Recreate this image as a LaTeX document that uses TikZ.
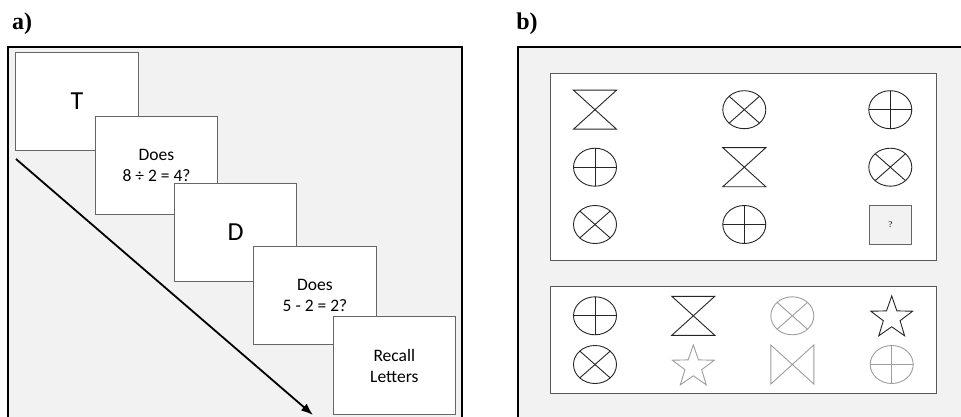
\documentclass[tikz,border=0pt]{standalone}
\usepackage{fontspec}
\setmainfont{Liberation Serif}
\newfontfamily\cardfont{Carlito}
\usepackage{tikz}
\usetikzlibrary{arrows.meta, shapes.geometric}

\begin{document}
\begin{tikzpicture}[x=1pt, y=-1pt]
        \tikzset{panel/.style = {draw, line width=2pt, fill=black!5}}
        \tikzset{card/.style = {draw=black!60, line width=0.8pt, fill=white, minimum width=122.5pt, minimum height=98pt, inner sep=0pt, align=center, font=\cardfont\fontsize{17.5}{21}\selectfont}}
        \tikzset{bigletter/.style = {font=\cardfont\fontsize{26}{30}\selectfont}}
        \tikzset{holder/.style = {draw=black!65, line width=1pt, fill=white, inner sep=0pt}}
        \tikzset{fig/.style = {line width=0.9pt, draw=black!85}}
        \tikzset{faint/.style = {line width=0.9pt, draw=black!38}}
        \tikzset{starfig/.style = {star, star points=5, star point ratio=2.5, minimum size=44pt, inner sep=0pt}}
        \tikzset{
            hourglass/.pic = {\draw[pic actions] (-21.5,-19.5) -- (21.5,-19.5) -- (-21.5,19.5) -- (21.5,19.5) -- cycle;},
            bowtie/.pic = {\draw[pic actions] (-21.5,-19.5) -- (-21.5,19.5) -- (21.5,-19.5) -- (21.5,19.5) -- cycle;},
            crossoval/.pic = {\draw[pic actions] (0,0) ellipse [x radius=21.5pt, y radius=19pt];
                \draw[pic actions] (135:21.5pt and 19pt) -- (-45:21.5pt and 19pt);
                \draw[pic actions] (45:21.5pt and 19pt) -- (225:21.5pt and 19pt);},
            plusoval/.pic = {\draw[pic actions] (0,0) ellipse [x radius=21.5pt, y radius=19pt];
                \draw[pic actions] (0,-19) -- (0,19);
                \draw[pic actions] (-21.5,0) -- (21.5,0);}
        }

        \useasboundingbox (0,0) rectangle (961,417);
        \clip (0,0) rectangle (961,417);

        % panel a
        \node[font=\bfseries\fontsize{24}{28}\selectfont] (labela) at (22,24) {a)};
        \draw[panel] (8,47) rectangle (462,440);

        \node[card, bigletter] (cardT) at (77,101.5) {T};
        \node[card] (cardQa) at (156.5,165) {Does\\8 ÷ 2 = 4?};
        \node[card, bigletter] (cardD) at (235.5,232.5) {D};
        \node[card] (cardQb) at (315,295.7) {Does\\5 - 2 = 2?};
        \node[card] (cardR) at (394.3,365.7) {Recall\\Letters};

        % arrows
        \coordinate (arrstart) at (16,159);
        \coordinate (arrend) at (313,415);
        \draw[line width=1.8pt, -{Latex[length=12pt, width=9pt]}] (arrstart) -- (arrend);

        % panel b
        \node[font=\bfseries\fontsize{24}{28}\selectfont] (labelb) at (527,24) {b)};
        \draw[panel] (518,47) rectangle (975,440);

        \node[holder, minimum width=386pt, minimum height=187.4pt] (matbox) at (743,167) {};
        \node[holder, minimum width=386pt, minimum height=106.6pt] (choicebox) at (743,340) {};

        % matrix
        \pic[fig] (m11) at (595,109.7) {hourglass};
        \pic[fig] (m12) at (744.3,109.7) {crossoval};
        \pic[fig] (m13) at (890.3,109.7) {plusoval};
        \pic[fig] (m21) at (595,167.2) {plusoval};
        \pic[fig] (m22) at (744.3,167.2) {hourglass};
        \pic[fig] (m23) at (890.3,167.2) {crossoval};
        \pic[fig] (m31) at (595,224.5) {crossoval};
        \pic[fig] (m32) at (744.3,224.5) {plusoval};
        \node[draw=black!60, line width=0.8pt, fill=black!5, minimum width=42.7pt, minimum height=39pt, inner sep=0pt, font=\fontsize{9}{10}\selectfont] (gap) at (890.3,224.5) {?};

        % choices
        \pic[fig] (c11) at (595,315.8) {plusoval};
        \pic[fig] (c12) at (693.3,315.8) {hourglass};
        \pic[faint] (c13) at (792.3,315.8) {crossoval};
        \node[starfig, fig] (c14) at (891.7,318) {};
        \pic[fig] (c21) at (595,364.5) {crossoval};
        \node[starfig, faint] (c22) at (693.3,367) {};
        \pic[faint] (c23) at (792.3,364.5) {bowtie};
        \pic[faint] (c24) at (891.7,364.5) {plusoval};

    \end{tikzpicture}
\end{document}
